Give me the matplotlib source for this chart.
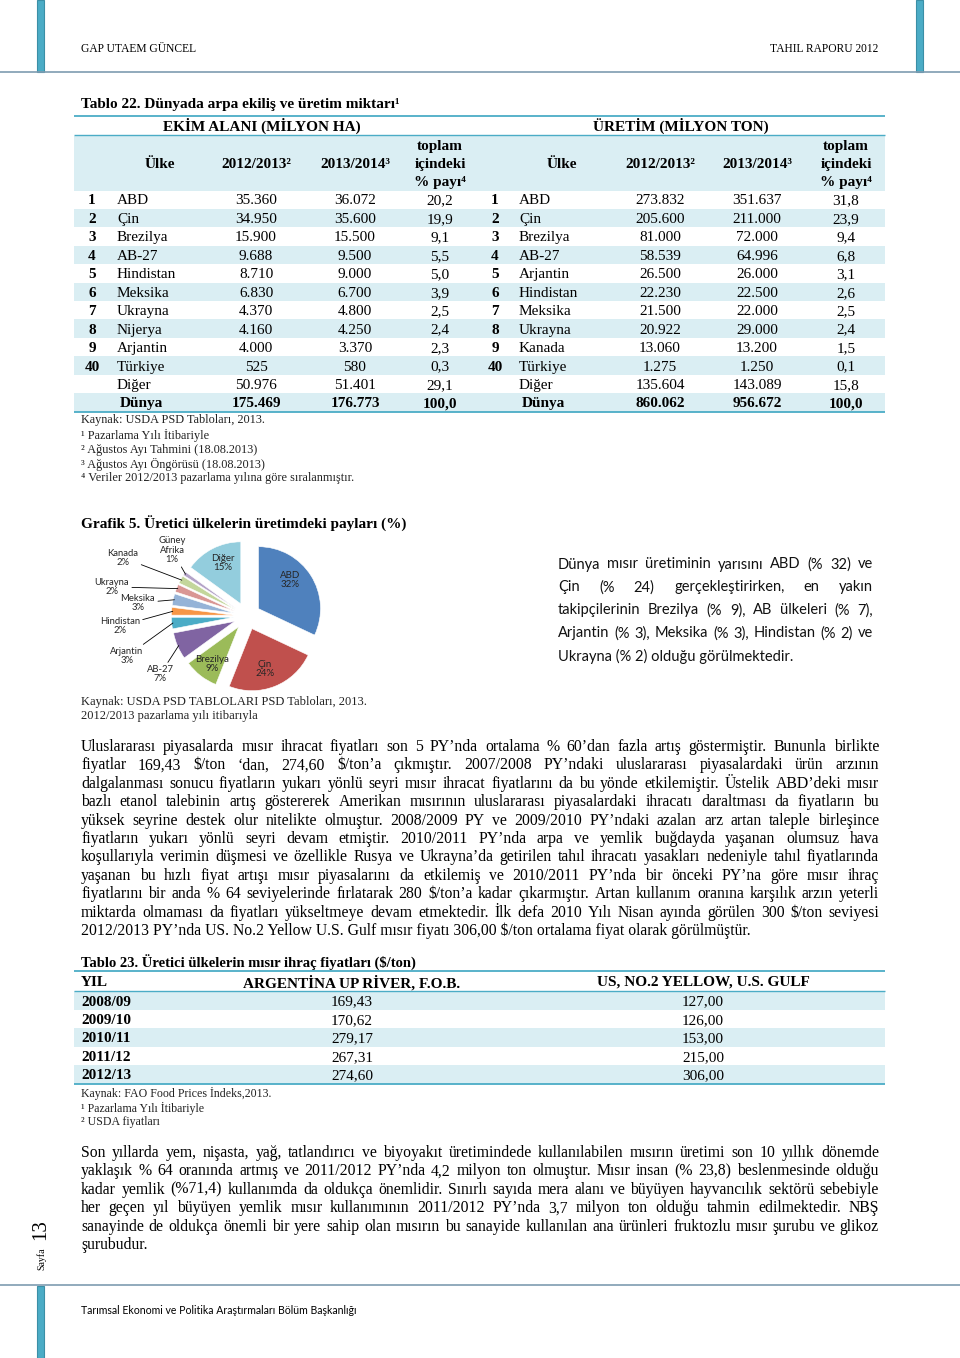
import matplotlib
matplotlib.use('Agg')
import matplotlib.pyplot as plt
from matplotlib.patches import Rectangle
import numpy as np

plt.rcParams['text.parse_math'] = False

# ---------------- DATA ----------------
area_ranks = ['1', '2', '3', '4', '5', '6', '7', '8', '9', '40', '', '']
area_countries = ['ABD', 'Çin', 'Brezilya', 'AB-27', 'Hindistan', 'Meksika', 'Ukrayna',
                  'Nijerya', 'Arjantin', 'Türkiye', 'Diğer', 'Dünya']
area_2012 = ['35.360', '34.950', '15.900', '9.688', '8.710', '6.830', '4.370', '4.160',
             '4.000', '525', '50.976', '175.469']
area_2013 = ['36.072', '35.600', '15.500', '9.500', '9.000', '6.700', '4.800', '4.250',
             '3.370', '580', '51.401', '176.773']
area_share = ['20,2', '19,9', '9,1', '5,5', '5,0', '3,9', '2,5', '2,4', '2,3', '0,3', '29,1', '100,0']

prod_ranks = ['1', '2', '3', '4', '5', '6', '7', '8', '9', '40', '', '']
prod_countries = ['ABD', 'Çin', 'Brezilya', 'AB-27', 'Arjantin', 'Hindistan', 'Meksika',
                  'Ukrayna', 'Kanada', 'Türkiye', 'Diğer', 'Dünya']
prod_2012 = ['273.832', '205.600', '81.000', '58.539', '26.500', '22.230', '21.500',
             '20.922', '13.060', '1.275', '135.604', '860.062']
prod_2013 = ['351.637', '211.000', '72.000', '64.996', '26.000', '22.500', '22.000',
             '29.000', '13.200', '1.250', '143.089', '956.672']
prod_share = ['31,8', '23,9', '9,4', '6,8', '3,1', '2,6', '2,5', '2,4', '1,5', '0,1', '15,8', '100,0']

pie_labels = ['ABD', 'Çin', 'Brezilya', 'AB-27', 'Arjantin', 'Hindistan', 'Meksika',
              'Ukrayna', 'Kanada', 'Güney\nAfrika', 'Diğer']
pie_shares = [32, 24, 9, 7, 3, 2, 3, 2, 2, 1, 15]
pie_colors = ['#4F81BD', '#C0504D', '#9BBB59', '#8064A2', '#4BACC6', '#F79646',
              '#95B3D7', '#D99694', '#C3D69B', '#B3A2C7', '#93CDDD']

price_years = ['2008/09', '2009/10', '2010/11', '2011/12', '2012/13']
price_argentina = ['169,43', '170,62', '279,17', '267,31', '274,60']
price_us_gulf = ['127,00', '126,00', '153,00', '215,00', '306,00']

para1 = [
    "Uluslararası piyasalarda mısır ihracat fiyatları son 5 PY’nda ortalama % 60’dan fazla artış göstermiştir. Bununla birlikte",
    "fiyatlar 169,43 $/ton ‘dan, 274,60 $/ton’a çıkmıştır. 2007/2008 PY’ndaki uluslararası piyasalardaki ürün arzının",
    "dalgalanması sonucu fiyatların yukarı yönlü seyri mısır ihracat fiyatlarını da bu yönde etkilemiştir. Üstelik ABD’deki mısır",
    "bazlı etanol talebinin artış göstererek Amerikan mısırının uluslararası piyasalardaki ihracatı daraltması da fiyatların bu",
    "yüksek seyrine destek olur nitelikte olmuştur. 2008/2009 PY ve 2009/2010 PY’ndaki azalan arz artan taleple birleşince",
    "fiyatların yukarı yönlü seyri devam etmiştir. 2010/2011 PY’nda arpa ve yemlik buğdayda yaşanan olumsuz hava",
    "koşullarıyla verimin düşmesi ve özellikle Rusya ve Ukrayna’da getirilen tahıl ihracatı yasakları nedeniyle tahıl fiyatlarında",
    "yaşanan bu hızlı fiyat artışı mısır piyasalarını da etkilemiş ve 2010/2011 PY’nda bir önceki PY’na göre mısır ihraç",
    "fiyatlarını bir anda % 64 seviyelerinde fırlatarak 280 $/ton’a kadar çıkarmıştır.  Artan kullanım oranına karşılık arzın yeterli",
    "miktarda olmaması da fiyatları yükseltmeye devam etmektedir. İlk defa 2010 Yılı Nisan ayında görülen 300 $/ton seviyesi",
    "2012/2013 PY’nda US. No.2 Yellow U.S. Gulf mısır fiyatı 306,00 $/ton ortalama fiyat olarak görülmüştür.",
]
para2 = [
    "Son yıllarda yem, nişasta, yağ, tatlandırıcı ve biyoyakıt üretimindede kullanılabilen mısırın üretimi son 10 yıllık dönemde",
    "yaklaşık % 64 oranında artmış ve 2011/2012 PY’nda 4,2 milyon ton olmuştur. Mısır insan (% 23,8) beslenmesinde olduğu",
    "kadar yemlik  (%71,4) kullanımda da oldukça önemlidir. Sınırlı sayıda mera alanı ve büyüyen hayvancılık sektörü sebebiyle",
    "her geçen yıl büyüyen yemlik mısır kullanımının 2011/2012 PY’nda 3,7 milyon ton olduğu tahmin edilmektedir. NBŞ",
    "sanayinde de oldukça önemli bir yere sahip olan mısırın bu sanayide kullanılan ana ürünleri fruktozlu mısır şurubu ve glikoz",
    "şurubudur.",
]
side_para = [
    "Dünya mısır  üretiminin  yarısını ABD (% 32) ve",
    "Çin  (%  24)  gerçekleştirirken,  en  yakın",
    "takipçilerinin Brezilya (% 9), AB ülkeleri (% 7),",
    "Arjantin (% 3), Meksika (% 3), Hindistan (% 2) ve",
    "Ukrayna (% 2) olduğu görülmektedir.",
]

# ---------------- PAGE ----------------
W, H = 960, 1358
fig = plt.figure(figsize=(9.6, 13.58), dpi=100)
page = fig.add_axes([0, 0, 1, 1])
page.set_xlim(0, W)
page.set_ylim(H, 0)
page.axis('off')
renderer = fig.canvas.get_renderer()

SERIF = ['Liberation Serif', 'DejaVu Serif']
SANS = ['Lato', 'DejaVu Sans']
TEAL = '#4BACC6'
STRIPE = '#DAEEF3'


def txt(x, y, s, size, family=SERIF, weight='normal', ha='left', va='center_baseline',
        color='black', **kw):
    return page.text(x, y, s, fontsize=size, family=family, fontweight=weight,
                     ha=ha, va=va, color=color, **kw)


def width_of(s, size, family, weight='normal'):
    t = page.text(0, 0, s, fontsize=size, family=family, fontweight=weight)
    w = t.get_window_extent(renderer).width
    t.remove()
    return w


def fit_size(lines, x0, x1, base, family):
    best = base
    for ln in lines[:-1]:
        w = width_of(' '.join(ln.split()), base, family)
        best = min(best, base * (x1 - x0) / w * 0.985)
    return best


def paragraph(lines, x0, x1, y0, dy, size, family, color='black'):
    for i, ln in enumerate(lines):
        y = y0 + i * dy
        words = ln.split()
        if i == len(lines) - 1 or len(words) == 1:
            txt(x0, y, ' '.join(words), size, family, color=color)
            continue
        ws = [width_of(w, size, family) for w in words]
        gap = (x1 - x0 - sum(ws)) / (len(words) - 1)
        x = x0
        for w, wd in zip(words, ws):
            txt(x, y, w, size, family, color=color)
            x += wd + gap


def hline(y, x0, x1, color=TEAL, lw=1.0):
    page.plot([x0, x1], [y, y], color=color, lw=lw, solid_capstyle='butt')


# page frame decorations
for bx in (37, 916):
    page.add_patch(Rectangle((bx, 0), 7, 72, facecolor='#4BACC6', edgecolor='#3B8FA6', lw=0.8))
hline(72, 0, W, color='#7E9CB0', lw=1.2)
page.add_patch(Rectangle((37, 1286), 7, 72, facecolor='#4BACC6', edgecolor='#3B8FA6', lw=0.8))
hline(1285, 0, W, color='#7E9CB0', lw=1.2)
txt(81, 47, 'GAP UTAEM GÜNCEL', 8.3, SERIF)
txt(878, 47, 'TAHIL RAPORU 2012', 8.3, SERIF, ha='right')
txt(81, 1310, 'Tarımsal Ekonomi ve Politika Araştırmaları Bölüm Başkanlığı', 7.6, SANS)
txt(41, 1230, '13', 15, SERIF, rotation=90, ha='center', va='center')
txt(42, 1259, 'Sayfa', 7, SERIF, rotation=90, ha='center', va='center')

# ---------------- TABLE 22 ----------------
TX0, TX1 = 74, 885
txt(81, 103, 'Tablo 22. Dünyada arpa ekiliş ve üretim miktarı¹', 11, SERIF, weight='bold')
hline(115.5, TX0, TX1, lw=1.3)
txt(262, 124.5, 'EKİM ALANI (MİLYON HA)', 11, SERIF, weight='bold', ha='center')
txt(681, 124.5, 'ÜRETİM (MİLYON TON)', 11, SERIF, weight='bold', ha='center')
hline(135, TX0, TX1, lw=1.0)
page.add_patch(Rectangle((TX0, 135.5), TX1 - TX0, 55, facecolor=STRIPE, edgecolor='none'))

row0, rdy = 199.5, 18.45
nrows = len(area_countries)
for i in range(nrows):
    if i % 2 == 1:
        page.add_patch(Rectangle((TX0, row0 + i * rdy - rdy / 2), TX1 - TX0, rdy,
                                 facecolor=STRIPE, edgecolor='none'))
hline(row0 + (nrows - 1) * rdy + rdy / 2 + 0.5, TX0, TX1, lw=1.3)

for (xr, xc, xv1, xv2, xs, xh, ranks, names, v1, v2, sh) in [
        (92, 117, 256, 355, 440, 160, area_ranks, area_countries, area_2012, area_2013, area_share),
        (495, 519, 660, 757, 846, 562, prod_ranks, prod_countries, prod_2012, prod_2013, prod_share)]:
    txt(xh, 163, 'Ülke', 11, SERIF, weight='bold', ha='center')
    txt(xv1, 163, '2012/2013²', 11, SERIF, weight='bold', ha='center')
    txt(xv2, 163, '2013/2014³', 11, SERIF, weight='bold', ha='center')
    for yy, s in zip((145, 163, 181), ('toplam', 'içindeki', '% payı⁴')):
        txt(xs, yy, s, 11, SERIF, weight='bold', ha='center')
    for i in range(nrows):
        y = row0 + i * rdy
        last = i == nrows - 1
        wt = 'bold' if last else 'normal'
        txt(xr, y, ranks[i], 11, SERIF, weight='bold', ha='center')
        txt(xc + (3 if last else 0), y, names[i], 11, SERIF, weight=wt)
        txt(xv1, y, v1[i], 11, SERIF, weight=wt, ha='center')
        txt(xv2, y, v2[i], 11, SERIF, weight=wt, ha='center')
        txt(xs, y, sh[i], 11, SERIF, weight=wt, ha='center')

notes22 = ['Kaynak: USDA PSD Tabloları, 2013.', '¹ Pazarlama Yılı İtibariyle',
           '² Ağustos Ayı Tahmini (18.08.2013)', '³ Ağustos Ayı Öngörüsü (18.08.2013)',
           '⁴ Veriler 2012/2013 pazarlama yılına göre sıralanmıştır.']
for k, s in enumerate(notes22):
    txt(81, 419 + k * 14.5, s, 8.8, SERIF, color='#222222')

# ---------------- PIE (Grafik 5) ----------------
txt(81, 522, 'Grafik 5. Üretici ülkelerin üretimdeki payları (%)', 11, SERIF, weight='bold')
CX, CY, R, EXT = 247, 616, 62, 2.5
half = EXT * R
pax = fig.add_axes([(CX - half) / W, (H - (CY + half)) / H, 2 * half / W, 2 * half / H])
wedges, _ = pax.pie(pie_shares, colors=pie_colors, startangle=90, counterclock=False,
                    explode=[0.22] * len(pie_shares), radius=1,
                    wedgeprops=dict(edgecolor='white', linewidth=0.4))
pax.set_xlim(-EXT, EXT)
pax.set_ylim(-EXT, EXT)
pax.set_aspect('equal')
pax.axis('off')

label_pos = [(0.69, 0.58), (0.29, -0.85), (-0.56, -0.77), (-1.40, -0.94), (-1.94, -0.65),
             (-2.05, -0.16), (-1.76, 0.21), (-2.18, 0.47), (-2.0, 0.94), (-1.21, 1.06),
             (-0.39, 0.85)]
inside = {0, 1, 2, 10}
for i, (w, lab, share) in enumerate(zip(wedges, pie_labels, pie_shares)):
    s = f'{lab}\n{share}%'
    lx, ly = label_pos[i]
    if i in inside:
        pax.text(lx, ly, s, ha='center', va='center', fontsize=7, family=SANS,
                 color='#262626', linespacing=1.05)
    else:
        ang = np.deg2rad((w.theta1 + w.theta2) / 2)
        cx, cy = w.center
        ex, ey = cx + 0.98 * np.cos(ang), cy + 0.98 * np.sin(ang)
        pax.annotate(s, xy=(ex, ey), xytext=(lx, ly), ha='center', va='center',
                     fontsize=6.8, family=SANS, color='#262626', linespacing=1.05,
                     arrowprops=dict(arrowstyle='-', color='black', lw=0.6,
                                     shrinkA=0, shrinkB=0))

txt(81, 700, 'Kaynak: USDA PSD TABLOLARI PSD Tabloları, 2013.', 9, SERIF, color='#222222')
txt(81, 715, '2012/2013 pazarlama yılı itibarıyla', 9, SERIF, color='#222222')

# side paragraph
sz_side = fit_size(side_para, 558, 873, 10.5, SANS)
paragraph(side_para, 558, 873, 563, 22.9, sz_side, SANS, color='#111111')

# ---------------- PARAGRAPH 1 ----------------
sz_p = fit_size(para1 + para2, 81, 879, 11.5, SERIF)
paragraph(para1, 81, 879, 745, 18.4, sz_p, SERIF)

# ---------------- TABLE 23 ----------------
txt(81, 961, 'Tablo 23. Üretici ülkelerin mısır ihraç fiyatları ($/ton)', 10.5, SERIF, weight='bold')
hline(971, TX0, TX1, lw=1.3)
txt(81, 981, 'YIL', 11, SERIF, weight='bold')
txt(352, 981, 'ARGENTİNA UP RİVER, F.O.B.', 11, SERIF, weight='bold', ha='center')
txt(703, 981, 'US, NO.2 YELLOW, U.S. GULF', 11, SERIF, weight='bold', ha='center')
hline(990.5, TX0, TX1, lw=1.0)
p0, pdy = 1000.5, 18.45
for i, (yr, a, u) in enumerate(zip(price_years, price_argentina, price_us_gulf)):
    y = p0 + i * pdy
    if i % 2 == 0:
        page.add_patch(Rectangle((TX0, y - pdy / 2), TX1 - TX0, pdy, facecolor=STRIPE,
                                 edgecolor='none'))
    txt(81, y, yr, 11, SERIF, weight='bold')
    txt(352, y, a, 11, SERIF, ha='center')
    txt(703, y, u, 11, SERIF, ha='center')
hline(p0 + 4 * pdy + pdy / 2 + 0.5, TX0, TX1, lw=1.3)

notes23 = ['Kaynak: FAO Food Prices İndeks,2013.', '¹ Pazarlama Yılı İtibariyle', '² USDA fiyatları']
for k, s in enumerate(notes23):
    txt(81, 1092 + k * 14.5, s, 8.6, SERIF, color='#222222')

# ---------------- PARAGRAPH 2 ----------------
paragraph(para2, 81, 879, 1151, 18.4, sz_p, SERIF)

fig.savefig('out.png', dpi=100)
